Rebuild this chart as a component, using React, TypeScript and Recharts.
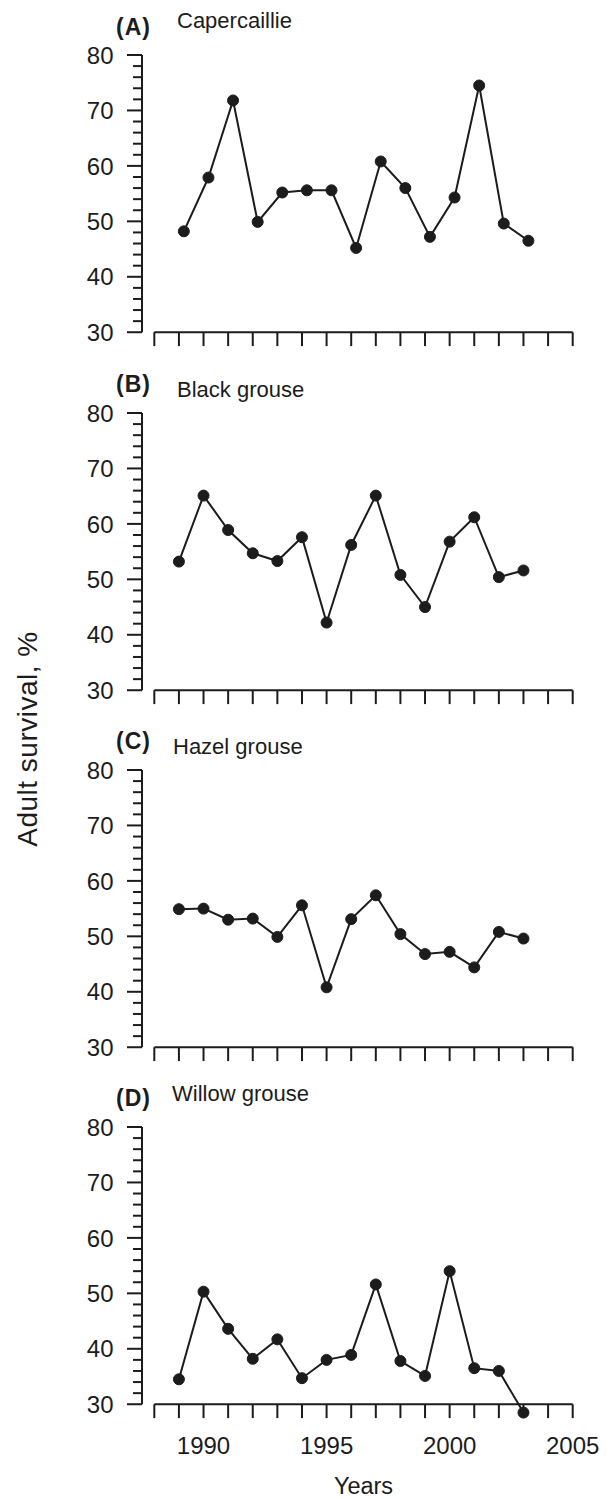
import React from 'react';
import { LineChart, Line, XAxis, YAxis, ReferenceLine } from 'recharts';

// ---- data ----
const YEARS = [1989, 1990, 1991, 1992, 1993, 1994, 1995, 1996, 1997, 1998, 1999, 2000, 2001, 2002, 2003];
const YEARS_A = [1989.2, 1990.2, 1991.2, 1992.2, 1993.2, 1994.2, 1995.2, 1996.2, 1997.2, 1998.2, 1999.2, 2000.2, 2001.2, 2002.2, 2003.2];
const CAPERCAILLIE = [48.2, 57.9, 71.8, 49.9, 55.2, 55.6, 55.6, 45.2, 60.8, 56.0, 47.2, 54.3, 74.5, 49.6, 46.5];
const BLACK_GROUSE = [53.2, 65.1, 58.9, 54.7, 53.3, 57.6, 42.2, 56.2, 65.1, 50.8, 45.0, 56.8, 61.2, 50.4, 51.6];
const HAZEL_GROUSE = [54.9, 55.0, 53.0, 53.2, 49.9, 55.6, 40.8, 53.1, 57.4, 50.4, 46.8, 47.2, 44.4, 50.8, 49.6];
const WILLOW_GROUSE = [34.5, 50.3, 43.6, 38.2, 41.7, 34.7, 38.0, 38.9, 51.6, 37.8, 35.1, 54.0, 36.5, 36.0, 28.5];

const TICK_YEARS = [1988, 1989, 1990, 1991, 1992, 1993, 1994, 1995, 1996, 1997, 1998, 1999, 2000, 2001, 2002, 2003, 2004, 2005];
const YEAR_LABELS = [1990, 1995, 2000, 2005];
const Y_TICKS = [30, 32, 34, 36, 38, 40, 42, 44, 46, 48, 50, 52, 54, 56, 58, 60, 62, 64, 66, 68, 70, 72, 74, 76, 78, 80];
const PANEL_LETTERS = ['(A)', '(B)', '(C)', '(D)'];
const SPECIES = ['Capercaillie', 'Black grouse', 'Hazel grouse', 'Willow grouse'];
const Y_TITLE = 'Adult survival, %';
const X_TITLE = 'Years';

// ---- styling / layout ----
const INK = '#1c1c1c';
const FONT = '"Liberation Sans", Arial, Helvetica, sans-serif';
const X_DOMAIN: [number, number] = [1987.5, 2005];
const Y_DOMAIN: [number, number] = [27.5, 80];
const AXIS_X = 1987.5;
const PLOT_H = 291.1;
const TOP = 40;
const Y80 = [55, 412.5, 769.8, 1127];
const LETTER_DY = [-20, -20.6, -20.7, -21.5];
const NAME_DY = [-27, -15.6, -16, -25.7];
const NAME_X = [177, 177, 173, 172];

const YTick = (props: any) => {
  const { x, y, payload } = props;
  const v = payload.value;
  const major = v % 10 === 0;
  return (
    <g>
      <line x1={x - (major ? 15 : 9)} x2={x} y1={y} y2={y} stroke={INK} strokeWidth={2} />
      {major && (
        <text x={x - 28.5} y={y} dy="0.36em" textAnchor="end" fontSize={24} fill={INK} fontFamily={FONT}>
          {v}
        </text>
      )}
    </g>
  );
};

const Panel = ({ idx, xs, ys }: { idx: number; xs: number[]; ys: number[] }) => {
  const data = xs.map((x, i) => ({ x, v: ys[i] }));
  const isLast = idx === 3;
  const height = isLast ? 1499 - (Y80[idx] - TOP) : TOP + PLOT_H + 10;
  const xAxisH = 50;
  const bottom = isLast ? height - TOP - PLOT_H - xAxisH : 10;
  return (
    <div style={{ position: 'absolute', left: 0, top: Y80[idx] - TOP }}>
      <LineChart width={612} height={height} data={data} margin={{ top: TOP, right: 39.3, left: 0, bottom }}>
        <XAxis
          type="number"
          dataKey="x"
          domain={X_DOMAIN}
          hide={!isLast}
          ticks={YEAR_LABELS}
          interval={0}
          height={xAxisH}
          tickLine={false}
          axisLine={false}
          tickSize={0}
          tickMargin={19}
          tick={{ fontSize: 24, fill: INK, fontFamily: FONT }}
        />
        <YAxis
          type="number"
          domain={Y_DOMAIN}
          ticks={Y_TICKS}
          interval={0}
          width={142}
          tickLine={false}
          axisLine={false}
          tickSize={0}
          tickMargin={0}
          tick={<YTick />}
        />
        <ReferenceLine
          segment={[{ x: AXIS_X, y: 30 }, { x: AXIS_X, y: 80 }]}
          stroke={INK}
          strokeWidth={2}
          ifOverflow="visible"
        />
        <ReferenceLine
          segment={[{ x: 1988, y: 30 }, { x: 2005, y: 30 }]}
          stroke={INK}
          strokeWidth={2}
          ifOverflow="visible"
        />
        {TICK_YEARS.map((yr) => (
          <ReferenceLine
            key={yr}
            segment={[{ x: yr, y: 30 }, { x: yr, y: 27.5 }]}
            stroke={INK}
            strokeWidth={2}
            ifOverflow="visible"
          />
        ))}
        <Line
          type="linear"
          dataKey="v"
          stroke={INK}
          strokeWidth={2}
          dot={{ r: 5.5, fill: INK, stroke: INK, strokeWidth: 1 }}
          activeDot={false}
          isAnimationActive={false}
        />
      </LineChart>
    </div>
  );
};

export default function App() {
  const series = [
    { xs: YEARS_A, ys: CAPERCAILLIE },
    { xs: YEARS, ys: BLACK_GROUSE },
    { xs: YEARS, ys: HAZEL_GROUSE },
    { xs: YEARS, ys: WILLOW_GROUSE },
  ];
  return (
    <div style={{ position: 'absolute', left: 0, top: 0, width: 612, height: 1499, background: '#fff', overflow: 'hidden' }}>
      {series.map((s, i) => (
        <Panel key={i} idx={i} xs={s.xs} ys={s.ys} />
      ))}
      <svg width={612} height={1499} style={{ position: 'absolute', left: 0, top: 0, pointerEvents: 'none' }}>
        {PANEL_LETTERS.map((l, i) => (
          <g key={l}>
            <text x={116} y={Y80[i] + LETTER_DY[i]} fontSize={23} fontWeight="bold" letterSpacing={1} fill={INK} fontFamily={FONT}>
              {l}
            </text>
            <text x={NAME_X[i]} y={Y80[i] + NAME_DY[i]} fontSize={22} fill={INK} fontFamily={FONT}>
              {SPECIES[i]}
            </text>
          </g>
        ))}
        <text
          x={36.5}
          y={739}
          transform="rotate(-90 36.5 739)"
          textAnchor="middle"
          fontSize={28}
          letterSpacing={0.5}
          fill={INK}
          fontFamily={FONT}
        >
          {Y_TITLE}
        </text>
        <text x={363.5} y={1494} textAnchor="middle" fontSize={23.5} fill={INK} fontFamily={FONT}>
          {X_TITLE}
        </text>
      </svg>
    </div>
  );
}
